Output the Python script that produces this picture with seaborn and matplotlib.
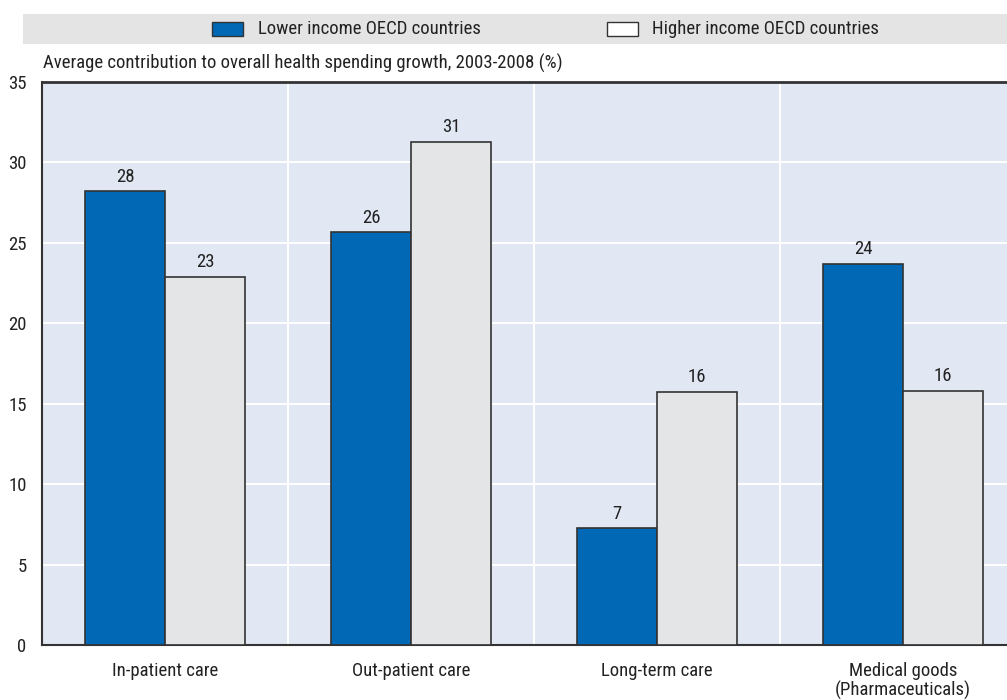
import matplotlib
matplotlib.use("Agg")
import matplotlib.pyplot as plt
import matplotlib.patches as mpatches
from matplotlib import font_manager
import seaborn as sns
import pandas as pd

# Health spending growth contributions, 2003-2008
categories = ["In-patient care", "Out-patient care", "Long-term care",
              "Medical goods\n(Pharmaceuticals)"]
groups = ["Lower income OECD countries", "Higher income OECD countries"]
lower_income = [28.2, 25.65, 7.25, 23.7]
higher_income = [22.9, 31.3, 15.75, 15.8]
lower_labels = ["28", "26", "7", "24"]
higher_labels = ["23", "31", "16", "16"]
y_ticks = [0, 5, 10, 15, 20, 25, 30, 35]
title = "Average contribution to overall health spending growth, 2003-2008 (%)"

df = pd.DataFrame({
    "category": categories * 2,
    "group": [groups[0]] * 4 + [groups[1]] * 4,
    "value": lower_income + higher_income,
})

sns.set_style("white")

# Prefer a condensed face; fall back to Liberation Sans
candidates = ["Liberation Sans Narrow", "Roboto Condensed", "Open Sans Condensed",
              "Noto Sans Condensed", "Liberation Sans", "DejaVu Sans"]
installed = {f.name for f in font_manager.fontManager.ttflist}
family = next(c for c in candidates if c in installed)
plt.rcParams["font.family"] = [family, "DejaVu Sans"]

TXT = "#222222"
BLUE = "#0068b4"
GREY = "#e4e5e7"
BG = "#e1e7f3"
EDGE = "#333333"

fig = plt.figure(figsize=(10.07, 7.0), dpi=100)

# Size text so the caption spans its intended width
renderer = fig.canvas.get_renderer()
probe = fig.text(0, 0, title, fontsize=10)
w10 = probe.get_window_extent(renderer).width
probe.remove()
FS = min(13.5, 10 * 523 / w10)

ax = fig.add_axes([42 / 1007, 55 / 700, 984 / 1007, 563 / 700])
ax.set_facecolor(BG)

sns.barplot(data=df, x="category", y="value", hue="group",
            palette=[BLUE, GREY], order=categories, hue_order=groups,
            width=0.65, gap=0, saturation=1, edgecolor=EDGE, linewidth=1.2,
            legend=False, ax=ax, zorder=3)

for cont, labs in zip(ax.containers, [lower_labels, higher_labels]):
    ax.bar_label(cont, labels=labs, padding=4, fontsize=FS, color=TXT)

ax.set_xlim(-0.5, 3.5)
ax.set_ylim(0, 35)
ax.set_yticks(y_ticks)
ax.set_yticklabels([str(t) for t in y_ticks], fontsize=FS, color=TXT)
ax.set_xticks(range(4))
ax.set_xticklabels(categories, fontsize=FS, color=TXT, linespacing=1.05)
ax.tick_params(axis="x", which="major", length=0, pad=12)
ax.set_xticks([0.5, 1.5, 2.5], minor=True)
ax.tick_params(axis="x", which="minor", direction="in", length=6,
               color=EDGE, width=1)
ax.tick_params(axis="y", which="major", direction="in", length=6,
               color=EDGE, width=1, pad=11)
ax.set_xlabel("")
ax.set_ylabel("")

# White grid lines
for y in y_ticks[1:-1]:
    ax.axhline(y, color="white", linewidth=1.4, zorder=1)
for x in [0.5, 1.5, 2.5]:
    ax.axvline(x, color="white", linewidth=1.4, zorder=1)

for side in ["left", "bottom"]:
    ax.spines[side].set_color(EDGE)
    ax.spines[side].set_linewidth(1.5)
ax.spines["top"].set_color(EDGE)
ax.spines["top"].set_linewidth(2.0)
ax.spines["right"].set_visible(False)

fig.text(43 / 1007, 1 - 63 / 700, title, fontsize=FS, color=TXT,
         va="center", ha="left")

# Legend band
band = mpatches.Rectangle((23 / 1007, 1 - 44 / 700), 1 - 23 / 1007, 30 / 700,
                          transform=fig.transFigure, facecolor="#e4e4e4",
                          edgecolor="none", zorder=0)
fig.patches.append(band)
for x0, x_text, color, text in [(212, 258, BLUE, groups[0]),
                                (607, 652, "white", groups[1])]:
    patch = mpatches.Rectangle((x0 / 1007, 1 - 36 / 700), 31 / 1007, 14 / 700,
                               transform=fig.transFigure, facecolor=color,
                               edgecolor=EDGE, linewidth=1, zorder=2)
    fig.patches.append(patch)
    fig.text(x_text / 1007, 1 - 29 / 700, text, fontsize=FS,
             color=TXT, va="center", ha="left")

fig.savefig("out.png", dpi=100)
